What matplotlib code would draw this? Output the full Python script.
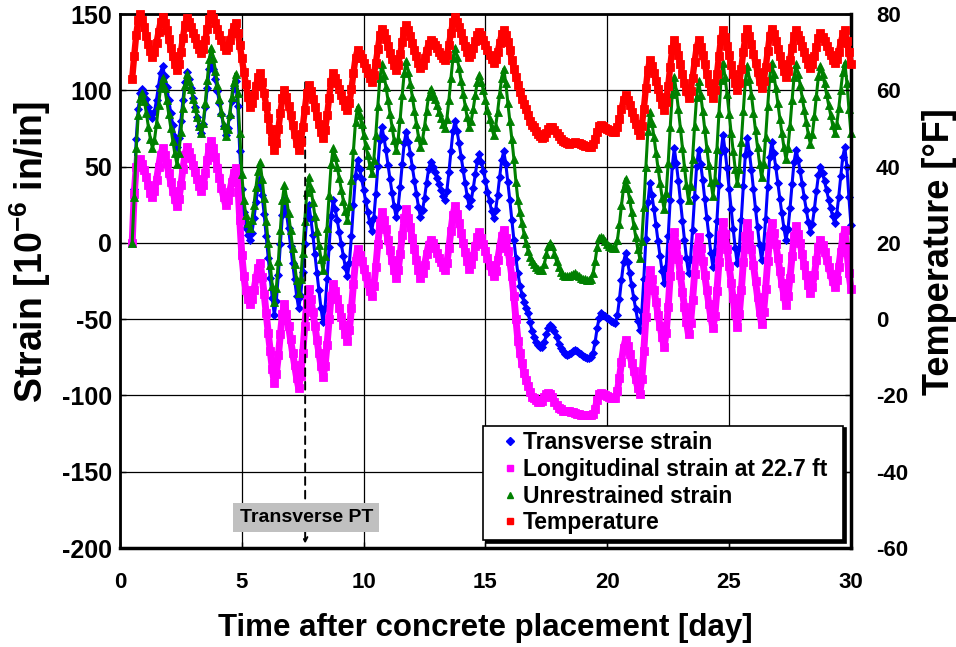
import numpy as np
import matplotlib
matplotlib.use("Agg")
import matplotlib.pyplot as plt
from matplotlib.lines import Line2D

plt.rcParams["font.family"] = ["Liberation Sans", "DejaVu Sans"]
plt.rcParams["font.weight"] = "bold"
plt.rcParams["axes.labelweight"] = "bold"
plt.rcParams["axes.unicode_minus"] = False
plt.rcParams["mathtext.fontset"] = "custom"
plt.rcParams["mathtext.rm"] = "Liberation Sans:bold"
plt.rcParams["mathtext.bf"] = "Liberation Sans:bold"

# readings every 2 h, first one at day 0.5; one row per day (hours 0..22)
t_start = 0.5
dt_hours = 2

transverse = [
    0, 35, 68, 88, 98, 101,
    98, 94, 89, 85, 82, 86.1, 93.9, 103.1, 111.6, 116, 109.6, 102.2,
    93.7, 85.3, 77.3, 69.4, 63, 68.9, 80.2, 93.4, 105.6, 112, 107.2, 101.6,
    95.2, 88.8, 82.8, 76.8, 72, 77.8, 88.8, 101.8, 113.8, 120, 114.1, 107.3,
    99.4, 91.6, 84.2, 76.9, 71, 75.2, 83.3, 92.7, 101.5, 106, 90, 60,
    35, 20, 10, 5, 2, 6.8, 16, 26.8, 36.8, 42, 31.3, 18.9,
    4.6, -9.6, -23, -36.3, -47, -38, -20.8, -0.5, 18.3, 28, 19.5, 9.5,
    -1.8, -13.2, -23.8, -34.5, -43, -34.8, -19.2, -0.8, 16.2, 25, 15.8, 5.0,
    -7.3, -19.7, -31.2, -42.8, -52, -42.4, -24, -2.4, 17.6, 28, 22, 15,
    7, -1, -8.5, -16, -22, -12.9, 4.6, 25.1, 44.1, 54, 48.5, 42.0,
    34.7, 27.3, 20.4, 13.5, 8, 16.2, 31.8, 50.2, 67.2, 76, 68.9, 60.7,
    51.2, 41.8, 32.9, 24.1, 17, 23.7, 36.6, 51.7, 65.7, 73, 66.3, 58.4,
    49.5, 40.5, 32.1, 23.7, 17, 21.3, 29.6, 39.3, 48.3, 53, 50, 46.5,
    42.5, 38.5, 34.8, 31, 28, 34.2, 46.2, 60.2, 73.2, 80, 73.3, 65.4,
    56.5, 47.5, 39.1, 30.7, 24, 28.1, 35.9, 45.1, 53.6, 58, 53, 47.1,
    40.4, 33.6, 27.3, 21, 16, 21.3, 31.4, 43.3, 54.3, 60, 52, 40,
    28, 15, 2, -10, -20, -28, -34, -39, -43, -46, -52, -58,
    -62, -65, -67, -68, -68, -65, -60, -56, -54, -55, -58, -62,
    -66, -69, -71, -73, -73.5, -73, -72, -71, -70, -71, -72, -73,
    -74, -75, -75.5, -75.6, -75, -72, -65, -56, -49, -46, -47, -48,
    -49, -50, -51, -52, -52.7, -47.2, -36.6, -24.2, -12.8, -6.8, -12.8, -19.9,
    -27.9, -35.9, -43.4, -51, -57, -45.5, -23.4, 2.5, 26.5, 39, 31.1, 22.0,
    11.5, 1, -8.8, -18.6, -26.5, -15.9, 4.5, 28.4, 50.5, 62, 52.2, 40.7,
    27.6, 14.4, 2.1, -10.2, -20, -10.3, 8.4, 30.2, 50.5, 61, 51.8, 41.1,
    28.8, 16.6, 5.1, -6.4, -15.6, -5.2, 14.6, 37.9, 59.5, 70.7, 60.6, 48.8,
    35.4, 21.9, 9.3, -3.3, -13.4, -3.6, 15.3, 37.4, 57.9, 68.5, 59.0, 47.8,
    35.0, 22.3, 10.3, -1.6, -11.2, -1.9, 15.9, 36.9, 56.2, 66.3, 58.6, 49.6,
    39.3, 28.9, 19.3, 9.6, 1.9, 9.0, 22.6, 38.5, 53.3, 61, 54.6, 47.0,
    38.4, 29.9, 21.8, 13.7, 7.3, 12.4, 22.2, 33.8, 44.4, 50, 45.5, 40.3,
    34.4, 28.4, 22.8, 17.3, 12.8, 18.8, 30.4, 43.9, 56.5, 63, 50, 30,
    12,
]

longitudinal = [
    0, 32, 50, 54, 55, 52,
    48, 43, 38, 33, 30, 33.8, 41.2, 49.8, 57.8, 62, 57.4, 52.1,
    46, 40, 34.3, 28.6, 24, 28.7, 37.7, 48.2, 57.9, 63, 59.5, 55.5,
    50.8, 46.2, 41.8, 37.5, 34, 38, 45.6, 54.5, 62.7, 67, 62, 56.1,
    49.4, 42.6, 36.3, 30, 25, 27.9, 33.4, 39.9, 45.9, 49, 40, 15,
    -8, -22, -31, -37, -40, -36.8, -30.6, -23.3, -16.5, -13, -22.5, -33.5,
    -46.2, -58.8, -70.7, -82.5, -92, -85.8, -73.8, -59.8, -46.8, -40, -46.6, -54.3,
    -63.1, -71.9, -80.2, -88.4, -95, -87.2, -72.3, -54.7, -38.5, -30, -37, -45.1,
    -54.4, -63.6, -72.3, -81, -88, -80.7, -66.7, -50.2, -34.9, -27, -31.4, -36.6,
    -42.5, -48.5, -54, -59.6, -64, -56.8, -43, -26.8, -11.8, -4, -7.7, -12.1,
    -17, -22, -26.6, -31.3, -35, -28.4, -15.8, -0.9, 12.9, 20, 14.8, 8.8,
    1.9, -4.9, -11.4, -17.8, -23, -17.6, -7.3, 4.9, 16.2, 22, 16.6, 10.3,
    3.1, -4.1, -10.9, -17.6, -23, -20, -14.3, -7.5, -1.3, 2, -0.4, -3.2,
    -6.4, -9.6, -12.6, -15.6, -18, -13, -3.3, 8, 18.5, 24, 19.1, 13.3,
    6.8, 0.2, -5.9, -12.1, -17, -14.1, -8.6, -2.1, 3.9, 7, 3.5, -0.5,
    -5.2, -9.8, -14.2, -18.5, -22, -18.3, -11.3, -3.1, 4.5, 8.5, 3, -5,
    -12, -22, -35, -50, -64, -72, -79, -85, -90, -94, -98, -101,
    -102, -103, -104, -104, -103.5, -101, -99, -98.5, -99, -101, -104, -106,
    -108, -109, -110, -110, -110, -110, -111, -111, -111.5, -112, -112, -112.5,
    -113, -113, -113, -113, -112.8, -112, -109, -103, -99, -98.5, -99, -100,
    -100.5, -101, -101.5, -101.8, -101.8, -97.2, -88.4, -78.1, -68.6, -63.6, -67.8, -72.8,
    -78.5, -84.1, -89.4, -94.8, -99, -89.3, -70.7, -48.8, -28.5, -18, -24, -31,
    -39, -47, -54.5, -62, -68, -59, -41.8, -21.5, -2.8, 7, -1, -10.4,
    -21.1, -31.9, -41.9, -52, -60, -52.3, -37.6, -20.3, -4.3, 4, -3.2, -11.6,
    -21.2, -30.8, -39.8, -48.8, -56, -47.6, -31.5, -12.6, 4.9, 14, 5.7, -3.9,
    -15, -26, -36.4, -46.7, -55, -46.8, -31.2, -12.8, 4.2, 13, 5.1, -4.2,
    -14.7, -25.3, -35.2, -45.1, -53, -45.1, -29.9, -12.1, 4.4, 13, 6.5, -1,
    -9.7, -18.3, -26.4, -34.5, -41, -34.8, -22.8, -8.8, 4.2, 11, 5.7, -0.4,
    -7.5, -14.5, -21.1, -27.7, -33, -28.8, -20.8, -11.3, -2.6, 2, -1.7, -6.1,
    -11, -16, -20.6, -25.3, -29, -24.5, -15.9, -5.8, 3.6, 8.5, -5, -20,
    -30,
]

unrestrained = [
    0, 30, 62, 84, 95, 98,
    93, 85, 76, 68, 62, 67.5, 78.1, 90.5, 102, 108, 101.3, 93.4,
    84.5, 75.5, 67.1, 58.7, 52, 59.1, 72.7, 88.6, 103.3, 111, 106.3, 100.9,
    94.6, 88.4, 82.5, 76.7, 72, 78.7, 91.6, 106.7, 120.7, 128, 121, 112.9,
    103.6, 94.4, 85.7, 77, 70, 74.9, 84.4, 95.4, 105.7, 111, 98, 72,
    45, 28, 18, 13, 10, 15.2, 25.1, 36.7, 47.4, 53, 42, 29.1,
    14.4, -0.4, -14.2, -28, -39, -29.8, -12.1, 8.7, 28, 38, 29.5, 19.5,
    8.2, -3.2, -13.8, -24.5, -33, -23.9, -6.4, 14.1, 33.1, 43, 35.7, 27.1,
    17.4, 7.6, -1.5, -10.7, -18, -8.4, 10, 31.6, 51.6, 62, 56.4, 49.8,
    42.3, 34.7, 27.7, 20.6, 15, 23.9, 40.9, 60.9, 79.4, 89, 83.8, 77.8,
    70.9, 64.1, 57.6, 51.2, 46, 54.5, 70.9, 90, 107.8, 117, 110.3, 102.4,
    93.5, 84.5, 76.1, 67.7, 61, 68, 81.3, 97, 111.5, 119, 112.3, 104.4,
    95.5, 86.5, 78.1, 69.7, 63, 67.6, 76.3, 86.6, 96.1, 101, 97.9, 94.2,
    90.1, 85.9, 82, 78.1, 75, 81.4, 93.6, 107.9, 121.1, 128, 121.8, 114.5,
    106.2, 97.8, 90, 82.2, 76, 80.1, 87.9, 97.1, 105.6, 110, 105.3, 99.9,
    93.6, 87.4, 81.5, 75.7, 71, 76.2, 86.1, 97.7, 108.4, 114, 105, 92,
    80, 68, 55, 40, 28, 20, 13, 6, 0, -5, -9, -12,
    -14, -16, -17, -18, -18, -14, -7, -2, 0, -2, -7, -12,
    -16, -19, -21, -22, -22, -21.5, -21, -20.5, -20, -21, -22, -23,
    -23.5, -24, -24.3, -24.3, -24, -20, -12, -3, 3, 4, 3, 1,
    -0.5, -2, -3, -3.3, -3.5, 2, 12.4, 24.7, 36.1, 42, 35.8, 28.5,
    20.2, 11.8, 4, -3.8, -10, 1.5, 23.6, 49.5, 73.5, 86, 78.3, 69.4,
    59.1, 48.9, 39.3, 29.7, 22, 32.4, 52.5, 75.9, 97.7, 109, 99.3, 87.9,
    75, 62, 49.9, 37.7, 28, 37.4, 55.3, 76.4, 95.9, 106, 97, 86.5,
    74.5, 62.5, 51.3, 40, 31, 41.4, 61.5, 84.9, 106.7, 118, 108.5, 97.5,
    84.8, 72.2, 60.3, 48.5, 39, 48.2, 66, 86.7, 106, 116, 107.2, 97,
    85.3, 73.7, 62.7, 51.8, 43, 52, 69.3, 89.5, 108.3, 118, 110.4, 101.6,
    91.5, 81.5, 72, 62.6, 55, 62.4, 76.7, 93.4, 108.9, 117, 110.8, 103.5,
    95.2, 86.8, 79, 71.2, 65, 71.1, 82.9, 96.6, 109.4, 116, 110.7, 104.6,
    97.5, 90.5, 83.9, 77.3, 72, 77.5, 88.1, 100.5, 112, 118, 105, 88,
    72,
]

temperature = [
    63, 69, 74.5, 78.5, 80, 78.5,
    76.5, 74.3, 72.2, 70.2, 68.8, 70.1, 72.5, 75.3, 77.9, 79.3, 77.6, 75.7,
    73.4, 71.2, 69.1, 67.0, 65.3, 66.9, 70.1, 73.8, 77.2, 79.0, 77.9, 76.6,
    75.1, 73.6, 72.2, 70.8, 69.7, 70.9, 73.3, 76.1, 78.7, 80.0, 78.9, 77.6,
    76.1, 74.5, 73.1, 71.7, 70.6, 71.4, 73.1, 75.0, 76.7, 77.6, 75.0, 71.9,
    68.4, 64.9, 61.6, 58.3, 55.7, 56.8, 58.8, 61.2, 63.4, 64.5, 62.1, 59.2,
    56.0, 52.8, 49.8, 46.7, 44.3, 46.2, 49.8, 54.1, 58.0, 60.1, 58.2, 56.0,
    53.5, 50.9, 48.6, 46.2, 44.3, 46.4, 50.3, 54.9, 59.2, 61.4, 59.7, 57.8,
    55.5, 53.3, 51.2, 49.1, 47.4, 49.5, 53.4, 58.0, 62.3, 64.5, 63.3, 62.0,
    60.4, 58.9, 57.4, 56.0, 54.8, 56.7, 60.3, 64.6, 68.5, 70.6, 69.6, 68.4,
    67.1, 65.8, 64.5, 63.3, 62.3, 64.0, 67.2, 70.9, 74.4, 76.2, 74.9, 73.4,
    71.6, 69.9, 68.2, 66.6, 65.3, 66.7, 69.4, 72.6, 75.6, 77.1, 75.7, 74.2,
    72.4, 70.5, 68.9, 67.2, 65.8, 66.7, 68.4, 70.4, 72.2, 73.2, 72.6, 71.8,
    71.0, 70.1, 69.3, 68.5, 67.9, 69.3, 71.9, 75.0, 77.8, 79.3, 78.0, 76.6,
    74.9, 73.2, 71.6, 70.1, 68.8, 69.6, 71.1, 72.9, 74.5, 75.4, 74.4, 73.2,
    71.9, 70.6, 69.3, 68.1, 67.1, 68.1, 70.1, 72.5, 74.7, 75.8, 74.5, 72.8,
    70.5, 68.0, 65.5, 63.5, 61.5, 59.5, 57.8, 56.5, 55.0, 53.5, 52.0, 51.0,
    50.3, 49.3, 48.5, 47.9, 47.4, 47.8, 48.8, 49.9, 50.5, 50.3, 49.6, 48.8,
    48.0, 47.3, 46.8, 46.4, 46.1, 46.0, 46.1, 46.3, 46.4, 46.3, 46.1, 45.9,
    45.7, 45.5, 45.3, 45.2, 45.2, 45.8, 47.3, 49.2, 50.6, 50.9, 50.6, 50.2,
    49.9, 49.6, 49.3, 49.2, 49.1, 50.3, 52.5, 55.1, 57.5, 58.8, 57.5, 56.1,
    54.4, 52.7, 51.1, 49.6, 48.3, 50.7, 55.2, 60.5, 65.4, 67.9, 66.3, 64.5,
    62.4, 60.3, 58.3, 56.4, 54.8, 57.0, 61.2, 66.2, 70.8, 73.2, 71.4, 69.2,
    66.8, 64.3, 62.0, 59.7, 57.9, 59.7, 63.3, 67.4, 71.2, 73.2, 71.4, 69.2,
    66.8, 64.3, 62.0, 59.7, 57.9, 60.0, 64.2, 69.0, 73.5, 75.8, 73.9, 71.7,
    69.2, 66.7, 64.3, 62.0, 60.1, 62.0, 65.7, 70.1, 74.1, 76.2, 74.3, 72.1,
    69.6, 67.1, 64.7, 62.4, 60.5, 62.4, 66.0, 70.2, 74.2, 76.2, 74.7, 72.9,
    70.9, 68.9, 67.0, 65.1, 63.6, 65.1, 67.9, 71.2, 74.2, 75.8, 74.6, 73.2,
    71.6, 70.0, 68.5, 67.0, 65.8, 66.9, 69.0, 71.4, 73.7, 74.9, 74.0, 72.9,
    71.6, 70.4, 69.2, 68.0, 67.1, 68.1, 70.1, 72.5, 74.7, 75.8, 73.0, 70.0,
    67.0,
]

pt_day = 7.6  # transverse post-tensioning

t = t_start + np.arange(len(temperature)) * dt_hours / 24

fig = plt.figure(figsize=(9.56, 6.47), dpi=100)
ax = fig.add_axes([0.1255, 0.153, 0.7646, 0.8253])
ax2 = ax.twinx()

ax.plot(t, transverse, ls="-", lw=2.2, marker="D", ms=4.4, mew=0.6,
        color="#0000FF", clip_on=False, zorder=3)
ax.plot(t, longitudinal, ls="-", lw=5.0, marker="s", ms=6.2, mew=0.6,
        color="#FF00FF", clip_on=False, zorder=3)
ax.plot(t, unrestrained, ls="-", lw=2.2, marker="^", ms=6.0, mew=0.6,
        color="#008000", clip_on=False, zorder=3)
ax2.plot(t, temperature, ls="-", lw=4.6, marker="s", ms=5.8, mew=0.6,
         color="#FF0000", clip_on=False, zorder=3)

ax.set_xlim(0, 30)
ax.set_ylim(-200, 150)
ax2.set_ylim(-60, 80)
ax.set_xticks(np.arange(0, 31, 5))
ax.set_yticks(np.arange(-200, 151, 50))
ax2.set_yticks(np.arange(-60, 81, 20))

ax.set_axisbelow(True)
ax.grid(True, color="black", lw=0.9)
for s in ax.spines.values():
    s.set_linewidth(2)
ax.spines["bottom"].set_linewidth(2.5)
ax2.spines["right"].set_linewidth(2.5)

ax.tick_params(direction="in", length=4, width=1)
ax.tick_params(axis="x", labelsize=16, pad=17)
ax.tick_params(axis="y", labelsize=18, pad=6)
ax2.tick_params(labelsize=16, direction="in", length=4, width=1, pad=18)
for lab in ax.get_xticklabels() + ax.get_yticklabels() + ax2.get_yticklabels():
    lab.set_fontweight("bold")

ax.set_xlabel("Time after concrete placement [day]", fontsize=22.5,
              fontweight="bold", labelpad=15)
ax.set_ylabel(r"Strain [10$^{\mathbf{-6}}$ in/in]", fontsize=27,
              fontweight="bold", labelpad=6)
ax2.set_ylabel("Temperature [\u00b0F]", fontsize=26, fontweight="bold",
               labelpad=10)
ax.yaxis.label.set_y(0.555)
ax2.yaxis.label.set_y(0.555)

# transverse PT marker
ax.annotate("", xy=(pt_day, -199), xytext=(pt_day, 107),
            arrowprops=dict(arrowstyle="->", ls=(0, (4, 3)), lw=1.4,
                            color="black", mutation_scale=8), zorder=6)
ax.text(pt_day + 0.05, -180, "Transverse PT", ha="center", va="center",
        fontsize=14, fontweight="bold", zorder=7,
        bbox=dict(boxstyle="square,pad=0.32", fc="#C0C0C0", ec="none"))

handles = [
    Line2D([], [], ls="none", marker="D", ms=4, color="#0000FF"),
    Line2D([], [], ls="none", marker="s", ms=5, color="#FF00FF"),
    Line2D([], [], ls="none", marker="^", ms=5, color="#008000"),
    Line2D([], [], ls="none", marker="s", ms=4, color="#FF0000"),
]
labels = ["Transverse strain", "Longitudinal strain at 22.7 ft",
          "Unrestrained strain", "Temperature"]
leg = ax2.legend(handles, labels, loc="lower left", mode="expand",
                 bbox_to_anchor=(0.4966, 0.015, 0.4925, 0.21),
                 prop={"weight": "bold", "size": 16.5}, frameon=True,
                 fancybox=False, shadow={"color": "black", "alpha": 1},
                 handlelength=1.85, handletextpad=-0.35, labelspacing=0.16,
                 borderpad=0.25, borderaxespad=0)
leg.get_frame().set_edgecolor("black")
leg.get_frame().set_linewidth(1.2)
leg.set_zorder(10)

fig.savefig("out.png", dpi=100)
